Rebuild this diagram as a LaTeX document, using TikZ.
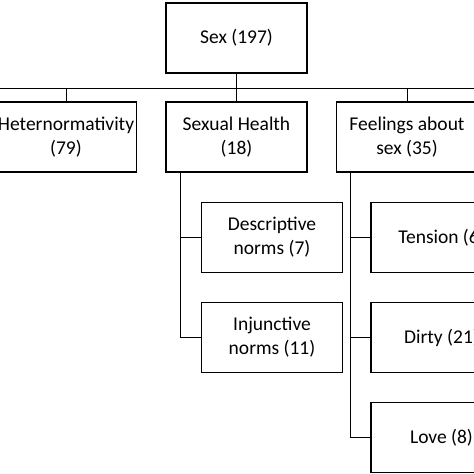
\documentclass[tikz,border=0pt]{standalone}
\usepackage{fontspec}
\setmainfont{Carlito}
\usetikzlibrary{calc,positioning}
\tikzset{
  theme box/.style={draw,line width=1.6pt,minimum width=141pt,minimum height=70pt,inner sep=0pt,
    align=center,font=\fontsize{19.5}{24}\selectfont},
  tree edge/.style={line width=1pt},
}

\begin{document}
\begin{tikzpicture}[x=1pt,y=-1pt]
  \clip (0,0) rectangle (474,474);
  \node[theme box] (sex) at (236.5,38) {Sex (197)};
  \node[theme box] (het) at (66,137) {Heternormativity\\(79)};
  \node[theme box] (health) at (236.5,137) {Sexual Health\\(18)};
  \node[theme box] (feel) at (407,137) {Feelings about\\sex (35)};
  \node[theme box] (desc) at (272,237.5) {Descriptive\\norms (7)};
  \node[theme box] (inj) at (272,337.5) {Injunctive\\norms (11)};
  \node[theme box] (tens) at (441.5,237.5) {Tension (6)};
  \node[theme box] (dirty) at (441.5,337.5) {Dirty (21)};
  \node[theme box] (love) at (441.5,437.5) {Love (8)};
  % bus under the root
  \coordinate (busl) at (-10,88);
  \coordinate (busr) at (484,88);
  \draw[tree edge] (busl) -- (busr);
  \draw[tree edge] (sex.south) -- (sex.south |- busl);
  \foreach \n in {het,health,feel}
    \draw[tree edge] (\n.north |- busl) -- (\n.north);
  % sub-themes
  \coordinate (hs) at (180,0);
  \coordinate (fs) at (350,0);
  \draw[tree edge] (hs |- health.south) -- (hs |- inj.west) -- (inj.west);
  \draw[tree edge] (hs |- desc.west) -- (desc.west);
  \draw[tree edge] (fs |- feel.south) -- (fs |- love.west) -- (love.west);
  \draw[tree edge] (fs |- tens.west) -- (tens.west);
  \draw[tree edge] (fs |- dirty.west) -- (dirty.west);
\end{tikzpicture}
\end{document}
